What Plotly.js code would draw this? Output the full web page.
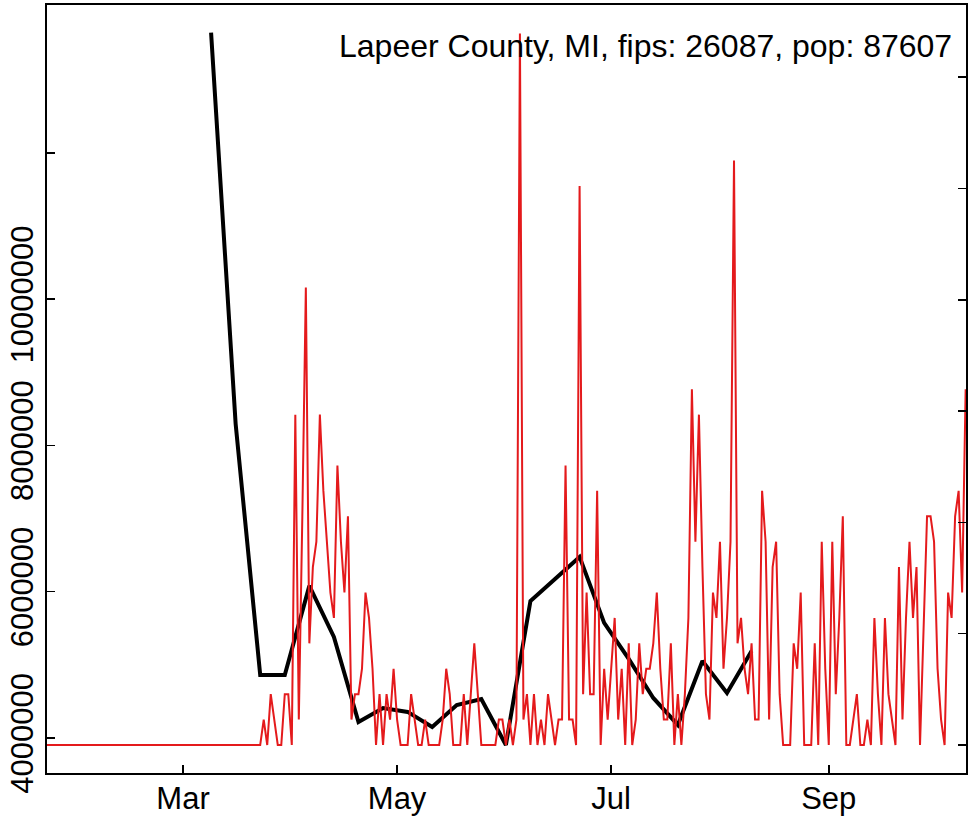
<!DOCTYPE html>
<html>
<head>
<meta charset="utf-8">
<script src="https://cdn.plot.ly/plotly-3.0.1.min.js"></script>
<style>html,body{margin:0;padding:0;background:#fff;}</style>
</head>
<body>
<div id="chart" style="width:974px;height:817px;"></div>
<script>
// ---- data ----
const titleText = "Lapeer County, MI, fips: 26087, pop: 87607";
const population = 87607;

// weekly series (left axis, black)
const weeklyDates = [
  "2020-03-09","2020-03-16","2020-03-23","2020-03-30","2020-04-06","2020-04-13",
  "2020-04-20","2020-04-27","2020-05-04","2020-05-11","2020-05-18","2020-05-25",
  "2020-06-01","2020-06-08","2020-06-15","2020-06-22","2020-06-29","2020-07-06",
  "2020-07-13","2020-07-20","2020-07-27","2020-08-03","2020-08-10"
];
const weeklyValues = [
  13641000, 8294000, 4862000, 4862000, 6079000, 5381000,
  4219000, 4410000, 4356000, 4150000, 4451000, 4533000,
  3904000, 5873000, 6174000, 6475000, 5573000, 5080000,
  4547000, 4178000, 5053000, 4615000, 5190000
];

// daily new cases (right axis, red, shown per 100k), starting 2020-01-22
const dailyStart = "2020-01-22";
const dailyCases = [
  // Jan 22 - Mar 23
  0,0,0,0,0,0,0,0,0,0,0,0,0,0,0,0,0,0,0,0,0,0,0,0,0,0,0,0,0,0,
  0,0,0,0,0,0,0,0,0,0,0,0,0,0,0,0,0,0,0,0,0,0,0,0,0,0,0,0,0,0,
  0,0,
  // Mar 24 ->
  1,0,2,1,0,0,2,2,0,13,1,9,18,4,7,8,13,10,8,6,5,11,8,6,9,1,2,2,3,6,
  5,3,0,2,0,2,1,3,1,0,0,0,2,1,0,0,1,0,0,0,0,1,3,2,0,0,0,2,0,2,
  4,2,0,0,0,0,0,1,1,0,1,0,1,28,1,2,0,2,0,1,0,2,1,0,1,1,11,1,1,0,
  22,2,6,2,2,10,0,3,1,3,5,1,3,0,4,0,1,4,2,3,3,4,6,3,1,1,4,0,2,0,
  2,5,14,8,13,7,2,1,6,5,8,3,5,8,23,4,5,3,2,4,1,1,10,8,1,7,8,2,0,0,
  0,4,3,6,0,0,0,4,0,8,3,0,8,2,5,9,0,0,1,2,0,0,1,0,5,2,0,5,2,1,
  0,7,1,5,8,5,7,0,5,9,9,8,3,1,0,6,5,9,10,6,14
];

const xTickVals = ["2020-03-01","2020-05-01","2020-07-01","2020-09-01"];
const xTickText = ["Mar","May","Jul","Sep"];
const leftTickVals = [4000000, 6000000, 8000000, 10000000, 12000000];
const leftTickText = ["4000000", "6000000", "8000000", "10000000", ""];
const rightTickVals = [0, 5, 10, 15, 20, 25, 30];

// ---- build ----
function addDays(iso, n) {
  const d = new Date(iso + "T00:00:00Z");
  d.setUTCDate(d.getUTCDate() + n);
  return d.toISOString().slice(0, 10);
}
const dailyDates = dailyCases.map((_, i) => addDays(dailyStart, i));
const dailyPer100k = dailyCases.map(c => c * 100000 / population);

const font = "Liberation Sans, Arial, Helvetica, sans-serif";

const traces = [
  {
    x: weeklyDates, y: weeklyValues, type: "scatter", mode: "lines",
    line: {color: "#000000", width: 4}, yaxis: "y", hoverinfo: "skip"
  },
  {
    x: dailyDates, y: dailyPer100k, type: "scatter", mode: "lines",
    line: {color: "#E41A1C", width: 2}, yaxis: "y2", hoverinfo: "skip"
  }
];

const layout = {
  width: 974, height: 817,
  margin: {l: 47, r: 8, t: 5, b: 44, pad: 0},
  paper_bgcolor: "#ffffff", plot_bgcolor: "#ffffff",
  showlegend: false,
  font: {family: font, size: 31, color: "#000"},
  xaxis: {
    type: "date",
    range: ["2020-01-22 06:00", "2020-10-10 02:24"],
    tickmode: "array", tickvals: xTickVals, ticktext: xTickText,
    ticks: "inside", ticklen: 8, tickwidth: 1.5, tickcolor: "#000",
    ticklabelstandoff: -3,
    showgrid: false, zeroline: false,
    showline: true, linecolor: "#000", linewidth: 2, mirror: true,
    tickfont: {family: font, size: 31, color: "#000"}
  },
  yaxis: {
    range: [3521000, 14020000],
    tickmode: "array", tickvals: leftTickVals, ticktext: leftTickText,
    tickangle: -90,
    ticks: "inside", ticklen: 8, tickwidth: 1.5, tickcolor: "#000",
    showgrid: false, zeroline: false,
    showline: true, linecolor: "#000", linewidth: 2,
    tickfont: {family: font, size: 31, color: "#000"}
  },
  yaxis2: {
    overlaying: "y", side: "right",
    range: [-1.258, 33.24],
    tickmode: "array", tickvals: rightTickVals, showticklabels: false,
    ticks: "inside", ticklen: 8, tickwidth: 1.5, tickcolor: "#000",
    showgrid: false, zeroline: false,
    showline: true, linecolor: "#000", linewidth: 2
  },
  annotations: [{
    xref: "paper", yref: "paper", x: 0.987, y: 0.9466,
    xanchor: "right", yanchor: "middle", showarrow: false,
    text: titleText, font: {family: font, size: 32, color: "#000"}
  }]
};

Plotly.newPlot("chart", traces, layout, {staticPlot: true, displayModeBar: false});
</script>
</body>
</html>
